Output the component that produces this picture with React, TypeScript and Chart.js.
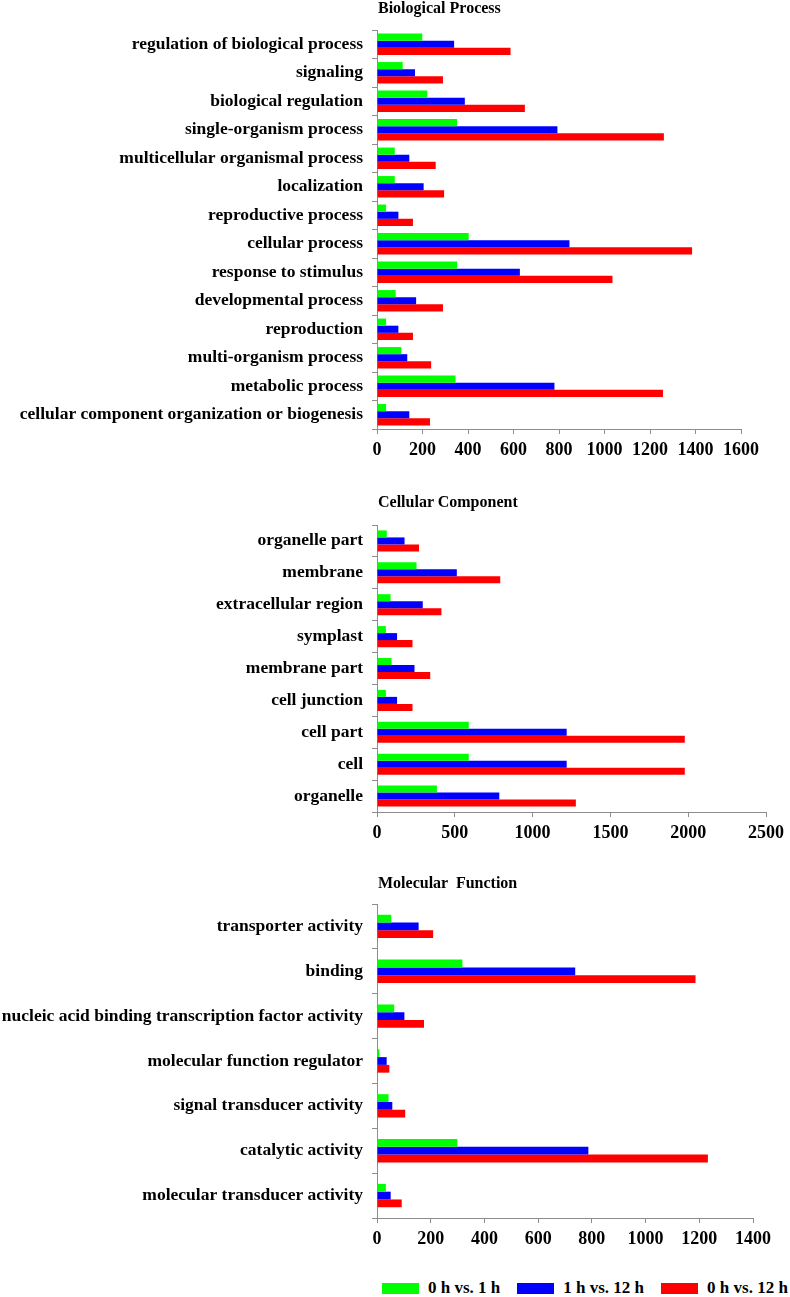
import React, { useEffect, useRef } from "react";
import { Chart, registerables } from "chart.js";

Chart.register(...registerables);

const SERIES_NAMES = ["0 h vs. 1 h", "1 h vs. 12 h", "0 h vs. 12 h"];
const SERIES_COLORS = ["#00FF00", "#0000FF", "#FF0000"];

const BP_LABELS = [
  "regulation of biological process",
  "signaling",
  "biological regulation",
  "single-organism process",
  "multicellular organismal process",
  "localization",
  "reproductive process",
  "cellular process",
  "response to stimulus",
  "developmental process",
  "reproduction",
  "multi-organism process",
  "metabolic process",
  "cellular component organization or biogenesis",
];
const BP_G = [199, 113, 221, 352, 78, 78, 40, 403, 352, 82, 40, 107, 345, 40];
const BP_B = [339, 167, 386, 793, 142, 205, 94, 846, 628, 172, 94, 133, 780, 142];
const BP_R = [587, 290, 650, 1261, 258, 295, 158, 1385, 1035, 290, 158, 238, 1257, 233];
const BP_TICKS = [0, 200, 400, 600, 800, 1000, 1200, 1400, 1600];

const CC_LABELS = [
  "organelle part",
  "membrane",
  "extracellular region",
  "symplast",
  "membrane part",
  "cell junction",
  "cell part",
  "cell",
  "organelle",
];
const CC_G = [63, 254, 87, 57, 93, 57, 590, 590, 385];
const CC_B = [177, 513, 294, 129, 241, 129, 1219, 1219, 786];
const CC_R = [270, 792, 414, 228, 342, 228, 1978, 1978, 1278];
const CC_TICKS = [0, 500, 1000, 1500, 2000, 2500];

const MF_LABELS = [
  "transporter activity",
  "binding",
  "nucleic acid binding transcription factor activity",
  "molecular function regulator",
  "signal transducer activity",
  "catalytic activity",
  "molecular transducer activity",
];
const MF_G = [53, 318, 64, 9, 43, 299, 33];
const MF_B = [155, 738, 102, 36, 57, 787, 51];
const MF_R = [209, 1186, 175, 46, 105, 1232, 92];
const MF_TICKS = [0, 200, 400, 600, 800, 1000, 1200, 1400];

const FONT = "'Liberation Serif', 'Times New Roman', serif";
const AXIS_GRAY = "#8c8c8c";

type Panel = {
  labels: string[];
  g: number[];
  b: number[];
  r: number[];
  ticks: number[];
  top: number;
  height: number;
  padTop: number;
  padRight: number;
  xHeight: number;
  catPct: number;
};

const PANELS: Panel[] = [
  { labels: BP_LABELS, g: BP_G, b: BP_B, r: BP_R, ticks: BP_TICKS, top: 0, height: 470, padTop: 30, padRight: 49, xHeight: 41, catPct: 0.75 },
  { labels: CC_LABELS, g: CC_G, b: CC_B, r: CC_R, ticks: CC_TICKS, top: 480, height: 380, padTop: 45, padRight: 18, xHeight: 48, catPct: 0.66 },
  { labels: MF_LABELS, g: MF_G, b: MF_B, r: MF_R, ticks: MF_TICKS, top: 860, height: 400, padTop: 44, padRight: 37, xHeight: 42, catPct: 0.52 },
];

const TITLES = [
  { text: "Biological Process", top: 0 },
  { text: "Cellular Component", top: 494 },
  { text: "Molecular  Function", top: 875 },
];

function makeConfig(p: Panel): any {
  const values = [p.g, p.b, p.r];
  const step = p.ticks[1] - p.ticks[0];
  return {
    type: "bar",
    data: {
      labels: p.labels,
      datasets: values.map((v, i) => ({
        label: SERIES_NAMES[i],
        data: v,
        backgroundColor: SERIES_COLORS[i],
        borderWidth: 0,
        categoryPercentage: p.catPct,
        barPercentage: 1,
      })),
    },
    options: {
      indexAxis: "y",
      responsive: false,
      animation: false,
      events: [],
      layout: { padding: { top: p.padTop, right: p.padRight, left: 0, bottom: 0 } },
      plugins: { legend: { display: false }, tooltip: { enabled: false }, title: { display: false } },
      scales: {
        x: {
          min: p.ticks[0],
          max: p.ticks[p.ticks.length - 1],
          ticks: {
            stepSize: step,
            color: "#000",
            padding: 6,
            maxRotation: 0,
            callback: (v: any) => String(v),
            font: { family: FONT, size: 18, weight: "bold" },
          },
          grid: { display: true, drawOnChartArea: false, drawTicks: true, tickLength: 5, color: AXIS_GRAY },
          border: { display: true, color: AXIS_GRAY, width: 1 },
          afterFit: (scale: any) => {
            scale.height = p.xHeight;
          },
        },
        y: {
          ticks: {
            color: "#000",
            padding: 9,
            autoSkip: false,
            font: { family: FONT, size: 17.5, weight: "bold" },
          },
          grid: { display: true, offset: true, drawOnChartArea: false, drawTicks: true, tickLength: 5, color: AXIS_GRAY },
          border: { display: true, color: AXIS_GRAY, width: 1 },
          afterFit: (scale: any) => {
            scale.width = 377;
          },
        },
      },
    },
  };
}

export default function App() {
  const refs = [useRef<HTMLCanvasElement>(null), useRef<HTMLCanvasElement>(null), useRef<HTMLCanvasElement>(null)];

  useEffect(() => {
    document.body.style.margin = "0";
    const charts = PANELS.map((p, i) => new Chart(refs[i].current as HTMLCanvasElement, makeConfig(p)));
    return () => charts.forEach((c) => c.destroy());
  }, []);

  return (
    <div style={{ position: "relative", width: 790, height: 1297, background: "#fff", fontFamily: FONT }}>
      {PANELS.map((p, i) => (
        <canvas
          key={i}
          ref={refs[i]}
          width={790}
          height={p.height}
          style={{ position: "absolute", left: 0, top: p.top, width: 790, height: p.height, display: "block" }}
        />
      ))}
      {TITLES.map((t, i) => (
        <div
          key={i}
          style={{
            position: "absolute",
            left: 378,
            top: t.top,
            fontSize: 16,
            fontWeight: "bold",
            lineHeight: "16px",
            whiteSpace: "pre",
            color: "#000",
          }}
        >
          {t.text}
        </div>
      ))}
      <div style={{ position: "absolute", left: 382, top: 1278, display: "flex", alignItems: "center", fontSize: 17, fontWeight: "bold", color: "#000", whiteSpace: "pre" }}>
        {SERIES_NAMES.map((n, i) => (
          <div key={i} style={{ display: "flex", alignItems: "center", marginRight: i < 2 ? 17 : 0 }}>
            <span style={{ display: "inline-block", width: 37, height: 11, background: SERIES_COLORS[i], marginRight: 9 }} />
            <span>{n}</span>
          </div>
        ))}
      </div>
    </div>
  );
}
